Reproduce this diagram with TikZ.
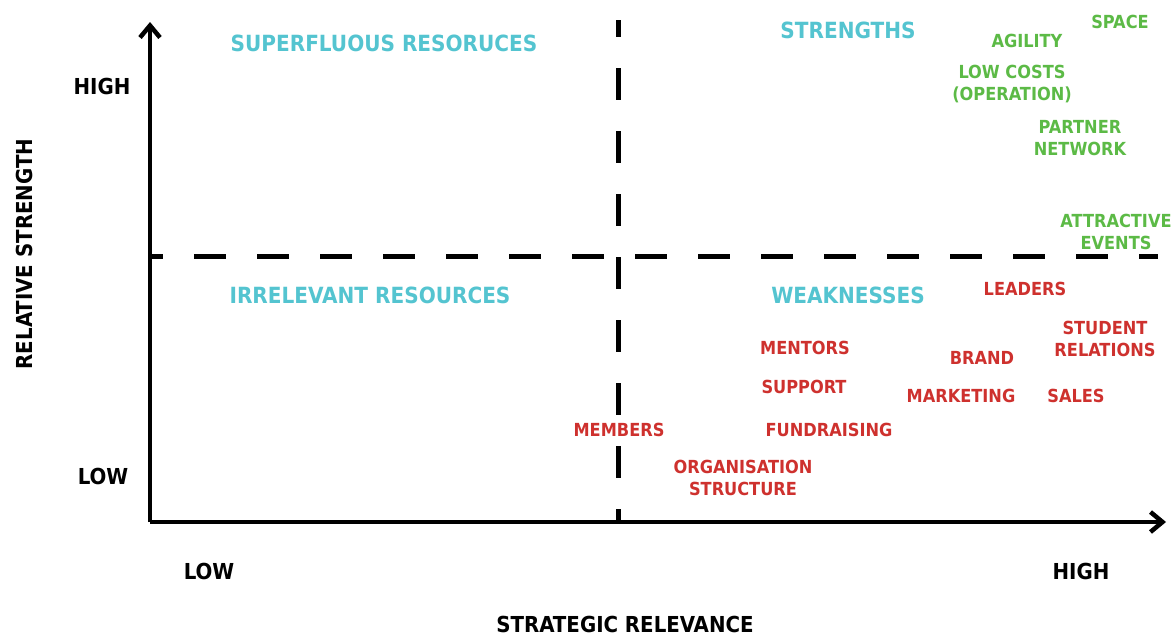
\documentclass[tikz,border=0pt]{standalone}
\usepackage{fontspec}
\setmainfont{DejaVu Sans Condensed}
\usetikzlibrary{arrows.meta}

\definecolor{quadcyan}{RGB}{84,196,208}
\definecolor{goodgreen}{RGB}{92,186,70}
\definecolor{badred}{RGB}{206,49,46}

\begin{document}
\begin{tikzpicture}
[x=1pt,y=-1pt,>={Straight Barb[length=12pt,width=20pt]},
every node/.style={inner sep=0pt,align=center,font=\bfseries\fontsize{18}{22}\selectfont},
quad/.style={text=quadcyan,font=\bfseries\fontsize{22.3}{26}\selectfont},
strong/.style={text=goodgreen},
weak/.style={text=badred},
scale label/.style={font=\bfseries\fontsize{22}{26}\selectfont}]

\useasboundingbox (0,0) rectangle (1175,637);

\coordinate (o) at (150,522);
\coordinate (ytop) at (150,22);
\coordinate (xend) at (1166,522);
\coordinate (vtop) at (618,20);
\coordinate (vbot) at (618,522);
\coordinate (hleft) at (150,256);
\coordinate (hright) at (1158,256);

%axes
\draw[line width=4.5pt,->] (o) -- (ytop);
\draw[line width=4.5pt,->] (o) -- (xend);

%quadrant borders
\draw[line width=5pt,dash pattern=on 32pt off 31pt,dash phase=15pt] (vtop) -- (vbot);
\draw[line width=5pt,dash pattern=on 32pt off 31pt,dash phase=19pt] (hleft) -- (hright);

%quadrants
\node[quad] (sup) at (384,43) {SUPERFLUOUS RESORUCES};
\node[quad] (str) at (848,30) {STRENGTHS};
\node[quad] (irr) at (370,295) {IRRELEVANT RESOURCES};
\node[quad] (wea) at (848,295) {WEAKNESSES};

%scale
\node[scale label] (yhigh) at (102,86) {HIGH};
\node[scale label] (ylow) at (103,476) {LOW};
\node[scale label,rotate=90] (ytitle) at (24,254) {RELATIVE STRENGTH};
\node[scale label] (xlow) at (209,571) {LOW};
\node[scale label] (xhigh) at (1081,571) {HIGH};
\node[scale label] (xtitle) at (625,624) {STRATEGIC RELEVANCE};

%strengths
\node[strong] (space) at (1120,22) {SPACE};
\node[strong] (agility) at (1027,41) {AGILITY};
\node[strong] (costs) at (1012,84) {LOW COSTS\\(OPERATION)};
\node[strong] (partner) at (1080,138) {PARTNER\\NETWORK};
\node[strong] (events) at (1116,232) {ATTRACTIVE\\EVENTS};

%weaknesses
\node[weak] (leaders) at (1025,289) {LEADERS};
\node[weak] (student) at (1105,339) {STUDENT\\RELATIONS};
\node[weak] (mentors) at (805,348) {MENTORS};
\node[weak] (brand) at (982,358) {BRAND};
\node[weak] (support) at (804,387) {SUPPORT};
\node[weak] (marketing) at (961,396) {MARKETING};
\node[weak] (sales) at (1076,396) {SALES};
\node[weak] (members) at (619,430) {MEMBERS};
\node[weak] (fund) at (829,430) {FUNDRAISING};
\node[weak] (orga) at (743,478) {ORGANISATION\\STRUCTURE};

\end{tikzpicture}
\end{document}
